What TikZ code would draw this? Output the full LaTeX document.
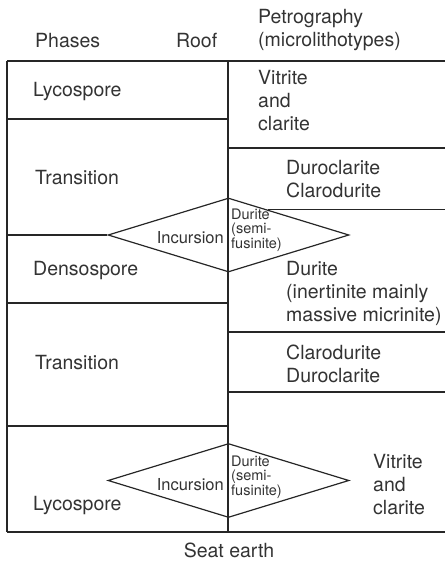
\documentclass[tikz,border=0pt]{standalone}
\usepackage{fontspec}
\setmainfont{TeX Gyre Heros}
\usetikzlibrary{shapes.geometric, calc}

\begin{document}
\begin{tikzpicture}[
        x=1pt, y=-1pt,
        font=\fontsize{19.5}{23}\selectfont,
        txt/.style={anchor=base west, inner sep=0pt, align=left, text=black!80},
        inctxt/.style={anchor=base east, inner sep=0pt, text=black!80, font=\fontsize{16.5}{20}\selectfont},
        note/.style={anchor=base west, inner sep=0pt, align=left, text=black!80, font=\fontsize{14.5}{14.5}\selectfont},
        rule/.style={line width=1.2pt, draw=black!85},
        incur/.style={diamond, draw=black!85, line width=1.2pt, minimum width=241pt, minimum height=74pt, inner sep=0pt}
    ]
    \useasboundingbox (0,0) rectangle (445,564);
    \coordinate (edge) at (445,0);

    % frame
    \draw[rule] (7,61) -- (445,61);
    \draw[rule] (7,532) -- (445,532);
    \draw[rule] (7,61) -- (7,532);

    \node[incur] (inc1) at (228.5,235) {};
    \node[incur] (inc2) at (228.5,480.5) {};
    \draw[rule] (228,61) -- (228,532);

    % phase limits
    \foreach \y in {119,303,426} \draw[rule] (7,\y) -- (228,\y);
    \draw[rule] (7,235) -- (inc1.west);
    % petrography limits
    \foreach \y in {148,332,392} \draw[rule] (228,\y) -- (445,\y);
    \coordinate (cut) at ($(inc1.north)!12/37!(inc1.east)$);
    \draw[rule] (cut) -- (cut -| edge);

    % headings (base = last line)
    \node[txt] (phh) at (35,48) {Phases};
    \node[txt] (roof) at (176,48) {Roof};
    \node[txt] (peh) at (258,47) {Petrography\\(microlithotypes)};

    % phases
    \node[txt] (lyc1) at (33,97) {Lycospore};
    \node[txt] (tr1) at (35,184) {Transition};
    \node[txt] (den) at (33,275) {Densospore};
    \node[txt] (tr2) at (35,369) {Transition};
    \node[txt] (lyc2) at (33,510) {Lycospore};

    % microlithotypes
    \node[txt] (vc1) at (258,131) {Vitrite\\and\\clarite};
    \node[txt] (dc1) at (286,197) {Duroclarite\\Clarodurite};
    \node[txt] (dur) at (286,321) {Durite\\(inertinite mainly\\massive micrinite)};
    \node[txt] (cd2) at (286,382) {Clarodurite\\Duroclarite};
    \node[txt] (vc2) at (373,514) {Vitrite\\and\\clarite};

    % incursions
    \node[inctxt] (inc1t) at (224,243) {Incursion};
    \node[note] (sf1) at (231,248) {Durite\\(semi-\\fusinite)};
    \node[inctxt] (inc2t) at (224,490) {Incursion};
    \node[note] (sf2) at (231,495) {Durite\\(semi-\\fusinite)};

    \node[txt, anchor=base] (seat) at (229,557) {Seat earth};
\end{tikzpicture}
\end{document}
